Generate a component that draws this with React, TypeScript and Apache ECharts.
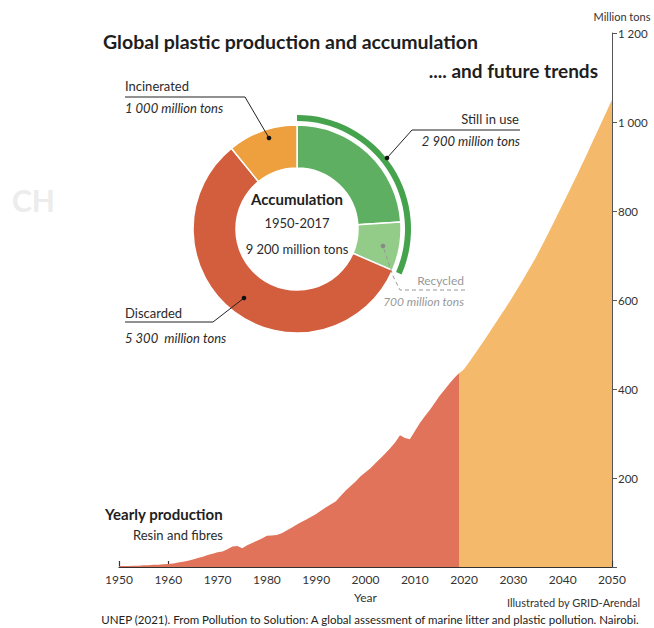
import React, { useEffect, useRef } from 'react';
import * as echarts from 'echarts';

// Yearly production (resin and fibres), million tons, 1950-2019
const histYears = [
  1950, 1951, 1952, 1953, 1954, 1955, 1956, 1957, 1958, 1959,
  1960, 1961, 1962, 1963, 1964, 1965, 1966, 1967, 1968, 1969,
  1970, 1971, 1972, 1973, 1974, 1975, 1976, 1977, 1978, 1979,
  1980, 1981, 1982, 1983, 1984, 1985, 1986, 1987, 1988, 1989,
  1990, 1991, 1992, 1993, 1994, 1995, 1996, 1997, 1998, 1999,
  2000, 2001, 2002, 2003, 2004, 2005, 2006, 2007, 2008, 2009,
  2010, 2011, 2012, 2013, 2014, 2015, 2016, 2017, 2018, 2019,
];
const histValues = [
  2, 2, 2, 3, 3, 4, 4, 5, 5, 6,
  7, 8, 10, 12, 14, 17, 20, 23, 27, 30,
  33, 35, 40, 46, 47, 42, 49, 54, 59, 64,
  70, 71, 72, 76, 82, 88, 95, 101, 107, 113,
  119, 127, 134, 141, 148, 160, 172, 182, 192, 204,
  213, 222, 233, 244, 255, 267, 280, 296, 290, 287,
  305, 323, 338, 352, 368, 384, 398, 412, 425, 436,
];

// Future trend, million tons
const futureYears = [2019, 2020, 2025, 2030, 2035, 2040, 2045, 2050];
const futureValues = [436, 445, 525, 610, 705, 815, 930, 1050];

// Accumulation 1950-2017, million tons
const donutNames = ['Still in use', 'Recycled', 'Discarded', 'Incinerated'];
const donutValues = [2200, 700, 5300, 1000];
const donutColors = ['#5FAF63', '#93CB88', '#D35E3D', '#EE9F3E'];
const stillInUseTotal = 2900;
const accumulationTotal = 9200;

const FONT = 'Lato, "Noto Sans", sans-serif';

function fmtThousands(v: number): string {
  if (v === 0) return '';
  const s = String(v);
  return s.length > 3 ? s.slice(0, s.length - 3) + ' ' + s.slice(-3) : s;
}

function txt(
  text: string,
  x: number,
  y: number,
  opts: { size?: number; weight?: string; italic?: boolean; color?: string; align?: string } = {}
) {
  const align = opts.align || 'left';
  return {
    type: 'text',
    z: 100,
    x,
    y,
    style: {
      text,
      fill: opts.color || '#2b2b2b',
      fontSize: opts.size || 13,
      fontWeight: opts.weight || 'normal',
      fontStyle: opts.italic ? 'italic' : 'normal',
      fontFamily: FONT,
      align,
      textAlign: align,
      verticalAlign: 'middle',
      textVerticalAlign: 'middle',
    },
  };
}

function line(points: number[][], color = '#222', dash?: number[]) {
  return {
    type: 'polyline',
    z: 100,
    shape: { points },
    style: { stroke: color, lineWidth: 1, fill: 'none', lineDash: dash },
  };
}

function dot(cx: number, cy: number, color = '#111') {
  return { type: 'circle', z: 100, shape: { cx, cy, r: 2.3 }, style: { fill: color } };
}

export default function App() {
  const ref = useRef<HTMLDivElement>(null);

  useEffect(() => {
    if (!ref.current) return;
    const chart = echarts.init(ref.current, undefined, { renderer: 'svg' });

    const option: any = {
      animation: false,
      backgroundColor: '#ffffff',
      textStyle: { fontFamily: FONT },
      grid: { left: 119, right: 42, top: 33, bottom: 61, containLabel: false },
      xAxis: {
        type: 'value',
        min: 1950,
        max: 2050,
        interval: 10,
        name: 'Year',
        nameLocation: 'middle',
        nameGap: 24,
        nameTextStyle: { fontSize: 12, color: '#333', fontFamily: FONT },
        axisLine: { lineStyle: { color: '#333', width: 1.2 } },
        axisTick: { inside: true, length: 6, lineStyle: { color: '#333', width: 1.2 } },
        axisLabel: {
          fontSize: 12,
          color: '#333',
          margin: 6,
          fontFamily: FONT,
          formatter: (v: number) => String(v),
        },
        splitLine: { show: false },
      },
      yAxis: {
        type: 'value',
        position: 'right',
        min: 0,
        max: 1200,
        interval: 200,
        axisLine: { show: true, lineStyle: { color: '#555', width: 1 } },
        axisTick: { show: true, length: 5, lineStyle: { color: '#555' } },
        axisLabel: {
          fontSize: 11.5,
          color: '#333',
          margin: 6,
          fontFamily: FONT,
          formatter: (v: number) => fmtThousands(v),
        },
        splitLine: { show: false },
      },
      series: [
        {
          type: 'line',
          name: 'Future trends',
          data: futureYears.map((y, i) => [y, futureValues[i]]),
          smooth: 0.3,
          symbol: 'none',
          lineStyle: { width: 0 },
          areaStyle: { color: '#F5B96B', opacity: 1 },
          z: 1,
        },
        {
          type: 'line',
          name: 'Yearly production',
          data: histYears.map((y, i) => [y, histValues[i]]),
          symbol: 'none',
          lineStyle: { width: 0 },
          areaStyle: { color: '#E1735A', opacity: 1 },
          z: 2,
        },
        {
          type: 'pie',
          name: 'Accumulation',
          center: [297, 229],
          radius: [61, 104],
          startAngle: 90,
          clockwise: true,
          silent: true,
          label: { show: false },
          labelLine: { show: false },
          itemStyle: { borderColor: '#ffffff', borderWidth: 1.5 },
          data: donutNames.map((n, i) => ({
            name: n,
            value: donutValues[i],
            itemStyle: { color: donutColors[i] },
          })),
          z: 5,
        },
        {
          type: 'pie',
          name: 'Still in use arc',
          center: [297, 229],
          radius: [108, 114],
          startAngle: 90,
          clockwise: true,
          silent: true,
          label: { show: false },
          labelLine: { show: false },
          data: [
            { name: 'Still in use', value: stillInUseTotal, itemStyle: { color: '#45A24D' } },
            { name: 'rest', value: accumulationTotal - stillInUseTotal, itemStyle: { color: 'rgba(0,0,0,0)' } },
          ],
          z: 5,
        },
      ],
      graphic: [
        txt('CH', 12, 200, { size: 30, weight: 'bold', color: '#ececec' }),
        txt('Global plastic production and accumulation', 103, 41, { size: 19.5, weight: 'bold', color: '#1e1e1e' }),
        txt('.... and future trends', 598, 70, { size: 19, weight: 'bold', color: '#1e1e1e', align: 'right' }),
        txt('Million tons', 622, 16, { size: 11, color: '#333', align: 'center' }),
        // Incinerated
        txt('Incinerated', 125, 86, { size: 13 }),
        txt('1 000 million tons', 125, 108, { size: 13, italic: true }),
        line([[125, 97], [245, 97], [269, 138]]),
        dot(269, 138),
        // Still in use
        txt('Still in use', 519, 119, { size: 13, align: 'right' }),
        txt('2 900 million tons', 520, 141, { size: 13, italic: true, align: 'right' }),
        line([[520, 130], [412, 130], [387, 158]]),
        dot(387, 158),
        // Recycled
        txt('Recycled', 464, 280, { size: 12, color: '#999', align: 'right' }),
        txt('700 million tons', 464, 301, { size: 12, italic: true, color: '#999', align: 'right' }),
        line([[465, 290], [400, 290], [393, 276], [383, 246]], '#999', [4, 3]),
        dot(383, 246, '#888'),
        // Discarded
        txt('Discarded', 125, 313, { size: 13 }),
        txt('5 300  million tons', 125, 338, { size: 13, italic: true }),
        line([[125, 322], [213, 322], [244, 298]]),
        dot(244, 298),
        // Centre
        txt('Accumulation', 297, 199, { size: 15, weight: 'bold', align: 'center', color: '#1e1e1e' }),
        txt('1950-2017', 297, 223, { size: 13, align: 'center' }),
        txt('9 200 million tons', 297, 249, { size: 13, align: 'center' }),
        // Yearly production
        txt('Yearly production', 105, 514, { size: 15, weight: 'bold', color: '#1e1e1e' }),
        txt('Resin and fibres', 133, 535, { size: 13 }),
        // Credits
        txt('Illustrated by GRID-Arendal', 640, 602, { size: 11, color: '#333', align: 'right' }),
        txt('UNEP (2021). From Pollution to Solution: A global assessment of marine litter and plastic pollution. Nairobi.', 370, 619, { size: 11.5, color: '#222', align: 'center' }),
      ],
    };

    chart.setOption(option);
    return () => chart.dispose();
  }, []);

  return (
    <div
      ref={ref}
      style={{ position: 'fixed', left: 0, top: 0, width: 654, height: 628, background: '#fff' }}
    />
  );
}
